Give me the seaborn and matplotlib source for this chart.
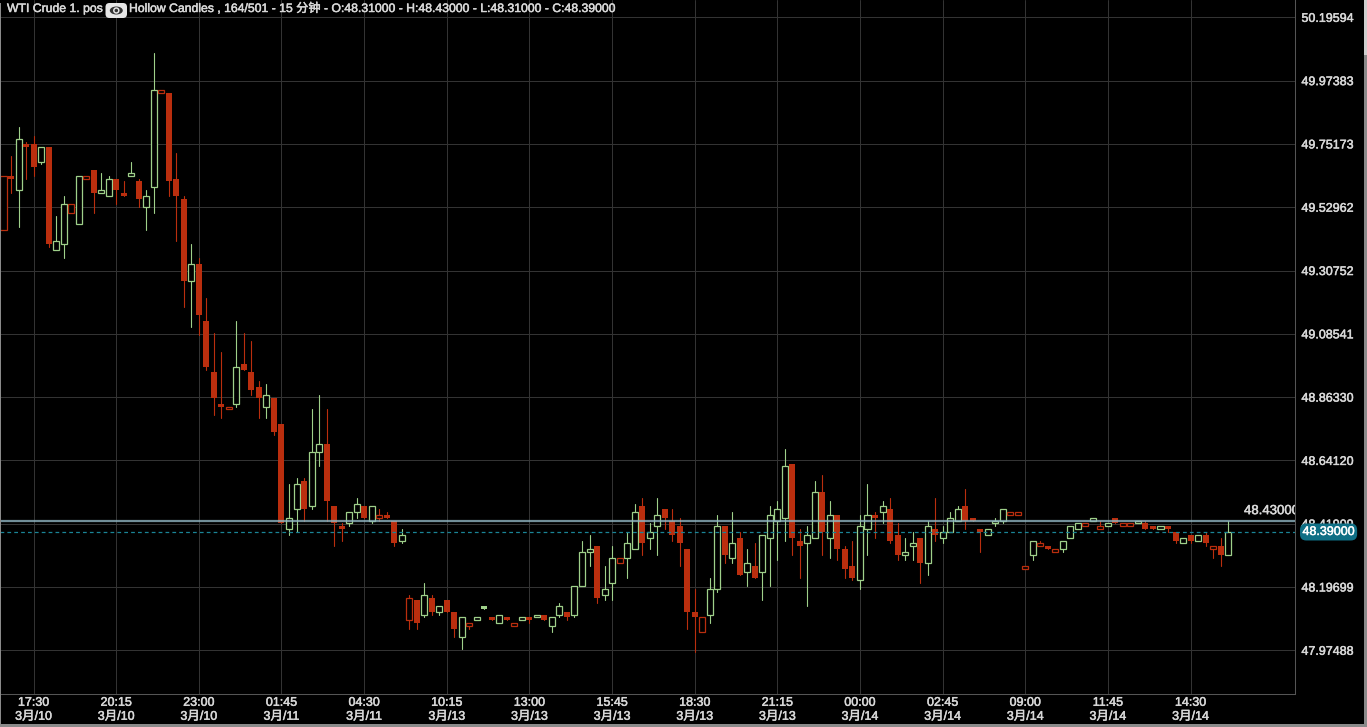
"""
WTI Crude hollow candle chart, 15 minute bars.
"""
import matplotlib
matplotlib.use('Agg')
import matplotlib.patheffects as pe
import matplotlib.pyplot as plt
import pandas as pd
import seaborn as sns
from matplotlib.patches import Ellipse, FancyBboxPatch, Rectangle
from matplotlib.transforms import IdentityTransform

opens = [
    49.45, 49.64, 49.59, 49.75, 49.75, 49.69, 49.74, 49.38, 49.40, 49.51,
    49.47, 49.63, 49.66, 49.58, 49.57, 49.63, 49.58, 49.64, 49.62, 49.53,
    49.60, 49.93, 49.93, 49.63, 49.56, 49.27, 49.33, 49.13, 48.95, 48.84,
    48.82, 48.84, 48.98, 48.95, 48.90, 48.83, 48.86, 48.77, 48.40, 48.47,
    48.57, 48.48, 48.67, 48.70, 48.48, 48.41, 48.42, 48.46, 48.48, 48.43,
    48.44, 48.45, 48.43, 48.36, 48.08, 48.15, 48.10, 48.16, 48.11, 48.15,
    48.11, 48.02, 48.06, 48.08, 48.13, 48.09, 48.07, 48.09, 48.06, 48.08,
    48.09, 48.09, 48.10, 48.06, 48.10, 48.11, 48.10, 48.20, 48.32, 48.34,
    48.17, 48.21, 48.28, 48.30, 48.33, 48.48, 48.37, 48.41, 48.47, 48.43,
    48.41, 48.33, 48.11, 48.04, 48.10, 48.19, 48.41, 48.30, 48.37, 48.25,
    48.27, 48.25, 48.37, 48.43, 48.44, 48.63, 48.36, 48.35, 48.37, 48.53,
    48.37, 48.45, 48.33, 48.27, 48.22, 48.40, 48.45, 48.46, 48.47, 48.38,
    48.31, 48.34, 48.37, 48.28, 48.40, 48.37, 48.39, 48.43, 48.48, 48.44,
    48.40, 48.38, 48.42, 48.43, 48.45, 48.45, 48.26, 48.31, 48.34, 48.34,
    48.32, 48.33, 48.37, 48.40, 48.41, 48.43, 48.40, 48.41, 48.44, 48.41,
    48.41, 48.42, 48.42, 48.41, 48.40, 48.41, 48.39, 48.35, 48.38, 48.36,
    48.38, 48.33, 48.34, 48.31,
]
highs = [
    49.64, 49.71, 49.81, 49.76, 49.78, 49.74, 49.74, 49.50, 49.57, 49.54,
    49.64, 49.64, 49.66, 49.65, 49.64, 49.63, 49.62, 49.69, 49.63, 49.59,
    50.07, 49.94, 49.93, 49.72, 49.57, 49.40, 49.35, 49.21, 49.09, 49.02,
    48.83, 49.13, 49.09, 49.06, 48.92, 48.91, 48.86, 48.77, 48.56, 48.58,
    48.58, 48.82, 48.87, 48.82, 48.48, 48.42, 48.46, 48.51, 48.48, 48.48,
    48.47, 48.46, 48.43, 48.40, 48.17, 48.15, 48.21, 48.17, 48.13, 48.15,
    48.11, 48.09, 48.07, 48.09, 48.13, 48.09, 48.10, 48.09, 48.07, 48.09,
    48.09, 48.10, 48.10, 48.09, 48.14, 48.11, 48.20, 48.36, 48.38, 48.34,
    48.27, 48.34, 48.30, 48.39, 48.49, 48.51, 48.42, 48.51, 48.47, 48.47,
    48.44, 48.33, 48.19, 48.09, 48.23, 48.45, 48.41, 48.46, 48.39, 48.33,
    48.35, 48.38, 48.48, 48.50, 48.68, 48.63, 48.40, 48.41, 48.57, 48.59,
    48.50, 48.45, 48.34, 48.36, 48.45, 48.56, 48.46, 48.50, 48.51, 48.42,
    48.37, 48.39, 48.37, 48.43, 48.51, 48.41, 48.46, 48.48, 48.54, 48.44,
    48.40, 48.40, 48.44, 48.47, 48.46, 48.46, 48.27, 48.36, 48.36, 48.34,
    48.33, 48.36, 48.41, 48.42, 48.42, 48.44, 48.43, 48.42, 48.44, 48.42,
    48.42, 48.43, 48.43, 48.41, 48.41, 48.41, 48.39, 48.37, 48.38, 48.38,
    48.39, 48.34, 48.37, 48.43,
]
lows = [
    49.45, 49.58, 49.46, 49.63, 49.64, 49.68, 49.39, 49.38, 49.35, 49.51,
    49.47, 49.63, 49.51, 49.58, 49.57, 49.54, 49.57, 49.64, 49.53, 49.45,
    49.51, 49.93, 49.57, 49.41, 49.18, 49.11, 49.08, 48.96, 48.80, 48.79,
    48.82, 48.83, 48.96, 48.87, 48.79, 48.79, 48.73, 48.42, 48.38, 48.39,
    48.43, 48.47, 48.62, 48.43, 48.34, 48.36, 48.41, 48.44, 48.44, 48.42,
    48.43, 48.44, 48.34, 48.35, 48.05, 48.05, 48.09, 48.10, 48.10, 48.11,
    48.02, 47.98, 48.05, 48.08, 48.12, 48.08, 48.07, 48.08, 48.06, 48.08,
    48.07, 48.09, 48.08, 48.04, 48.09, 48.08, 48.09, 48.20, 48.27, 48.14,
    48.15, 48.15, 48.28, 48.23, 48.33, 48.31, 48.33, 48.31, 48.40, 48.36,
    48.27, 48.05, 47.97, 48.04, 48.07, 48.18, 48.28, 48.28, 48.24, 48.20,
    48.23, 48.15, 48.20, 48.29, 48.36, 48.31, 48.23, 48.13, 48.37, 48.31,
    48.30, 48.29, 48.23, 48.22, 48.19, 48.31, 48.37, 48.42, 48.35, 48.29,
    48.29, 48.29, 48.21, 48.24, 48.36, 48.35, 48.39, 48.43, 48.40, 48.43,
    48.32, 48.38, 48.41, 48.42, 48.45, 48.45, 48.26, 48.29, 48.34, 48.33,
    48.32, 48.32, 48.37, 48.40, 48.41, 48.43, 48.40, 48.41, 48.42, 48.41,
    48.41, 48.42, 48.40, 48.40, 48.40, 48.39, 48.35, 48.35, 48.35, 48.36,
    48.34, 48.30, 48.27, 48.31,
]
closes = [
    49.64, 49.63, 49.77, 49.74, 49.67, 49.74, 49.40, 49.41, 49.54, 49.54,
    49.64, 49.64, 49.58, 49.59, 49.63, 49.59, 49.57, 49.65, 49.56, 49.57,
    49.94, 49.94, 49.62, 49.57, 49.27, 49.33, 49.15, 48.97, 48.86, 48.83,
    48.83, 48.97, 48.96, 48.89, 48.86, 48.87, 48.74, 48.42, 48.44, 48.56,
    48.47, 48.67, 48.70, 48.50, 48.42, 48.40, 48.46, 48.49, 48.44, 48.48,
    48.45, 48.44, 48.35, 48.38, 48.16, 48.07, 48.17, 48.11, 48.13, 48.11,
    48.05, 48.09, 48.07, 48.09, 48.12, 48.08, 48.10, 48.08, 48.07, 48.09,
    48.08, 48.10, 48.08, 48.09, 48.13, 48.09, 48.20, 48.32, 48.33, 48.16,
    48.19, 48.30, 48.30, 48.35, 48.46, 48.35, 48.39, 48.45, 48.44, 48.38,
    48.35, 48.11, 48.09, 48.09, 48.19, 48.41, 48.31, 48.35, 48.24, 48.28,
    48.23, 48.38, 48.45, 48.47, 48.62, 48.37, 48.34, 48.38, 48.53, 48.39,
    48.45, 48.33, 48.26, 48.23, 48.41, 48.45, 48.44, 48.48, 48.36, 48.31,
    48.32, 48.35, 48.28, 48.41, 48.38, 48.39, 48.44, 48.47, 48.43, 48.43,
    48.39, 48.40, 48.43, 48.47, 48.46, 48.46, 48.27, 48.36, 48.35, 48.33,
    48.33, 48.36, 48.41, 48.42, 48.42, 48.44, 48.41, 48.42, 48.42, 48.42,
    48.42, 48.43, 48.40, 48.40, 48.41, 48.40, 48.36, 48.37, 48.36, 48.38,
    48.35, 48.34, 48.31, 48.39,
]

price_ticks = [50.19594, 49.97383, 49.75173, 49.52962, 49.30752, 49.08541,
               48.86330, 48.64120, 48.41909, 48.19699, 47.97488]
time_labels = ['17:30', '20:15', '23:00', '01:45', '04:30', '10:15', '13:00', '15:45',
               '18:30', '21:15', '00:00', '02:45', '09:00', '11:45', '14:30']
date_labels = ['3月/10', '3月/10', '3月/10', '3月/11', '3月/11', '3月/13', '3月/13', '3月/13',
               '3月/13', '3月/13', '3月/14', '3月/14', '3月/14', '3月/14', '3月/14']
tick_bars = [4, 15, 26, 37, 48, 59, 70, 81, 92, 103, 114, 125, 136, 147, 158]
last_high = 48.43
last_close = 48.39

GREEN = '#9FD08A'
RED = '#BA2E0E'
GRID = '#333333'
TEXT = '#D8D8D8'
W, H = 1367, 727
AX_RIGHT, AX_BOTTOM = 1294.5, 694
HEAVY = [pe.withStroke(linewidth=0.35, foreground=TEXT)]

sns.set_theme(style='dark', rc={
    'figure.facecolor': 'black',
    'axes.facecolor': 'black',
    'axes.edgecolor': '#555555',
    'axes.axisbelow': True,
    'grid.color': GRID,
    'grid.linewidth': 0.75,
    'text.color': TEXT,
    'xtick.color': TEXT,
    'ytick.color': TEXT,
})
plt.rcParams['font.family'] = ['Liberation Sans', 'Noto Sans CJK SC', 'DejaVu Sans']
plt.rcParams['font.size'] = 9

df = pd.DataFrame({'open': opens, 'high': highs, 'low': lows, 'close': closes})
df['bar'] = df.index
# hollow when the bar closed above its open, red unless it closed above the bar before
df['hollow'] = df['close'] > df['open']
df['colour'] = ['red' if i == 0 or c <= df['close'][i - 1] else 'green'
                for i, c in enumerate(df['close'])]
palette = {'red': RED, 'green': GREEN}

fig = plt.figure(figsize=(W / 100, H / 100), dpi=100)
ax = fig.add_axes([0, 1 - AX_BOTTOM / H, AX_RIGHT / W, AX_BOTTOM / H])

# wicks: two rows per bar, one vertical line per unit
wicks = df.melt(id_vars=['bar', 'colour'], value_vars=['high', 'low'], value_name='price')
sns.lineplot(data=wicks, x='bar', y='price', hue='colour', units='bar', estimator=None,
             sort=False, palette=palette, legend=False, linewidth=0.8, ax=ax)

# bodies
bottoms = df[['open', 'close']].min(axis=1)
heights = (df['open'] - df['close']).abs()
faces = ['black' if h else palette[c] for h, c in zip(df['hollow'], df['colour'])]
edges = [palette[c] if h else 'none' for h, c in zip(df['hollow'], df['colour'])]
ax.bar(df['bar'], heights, bottom=bottoms, width=0.8, color=faces, edgecolor=edges,
       linewidth=0.9, zorder=3)

# axes scales: 1 px = 0.003509 in price, 7.513 px per bar
ax.set_xlim((0 - 3.5) / 7.513, (AX_RIGHT - 3.5) / 7.513)
ax.set_ylim(last_close - (AX_BOTTOM - 532) * 0.003509, last_close + 532 * 0.003509)

ax.axhline(last_high, color='#8FB4C0', alpha=0.8, linewidth=1.6, zorder=5)
ax.axhline(last_close, color='#1A8496', linewidth=0.9, linestyle=(0, (3, 2.5)), zorder=5)

ax.grid(True, axis='both')
ax.set_xticks(tick_bars)
ax.set_xticklabels([f'{t}\n{d}' for t, d in zip(time_labels, date_labels)], linespacing=1.0)
ax.set_yticks(price_ticks)
ax.set_yticklabels([f'{p:.5f}' for p in price_ticks])
ax.yaxis.tick_right()
ax.tick_params(axis='x', length=0, pad=2, labelsize=9)
ax.tick_params(axis='y', length=0, pad=5, labelsize=9)
for label in ax.get_xticklabels() + ax.get_yticklabels():
    label.set_path_effects(HEAVY)
    label.set_linespacing(1.22)
ax.set_xlabel('')
ax.set_ylabel('')
ax.spines['left'].set_visible(False)
ax.spines['top'].set_visible(False)
for side in ['right', 'bottom']:
    ax.spines[side].set_visible(True)
    ax.spines[side].set_color('#555555')
    ax.spines[side].set_linewidth(0.75)

# last values
ax.annotate(f'{last_high:.5f}', xy=(1, last_high), xycoords=('axes fraction', 'data'),
            xytext=(-50.5 * 0.72, 2.5), textcoords='offset points', va='bottom', ha='left',
            fontsize=9.5, color=TEXT, annotation_clip=False, clip_on=True, zorder=6,
            path_effects=HEAVY)
ax.annotate(f'{last_close:.5f}', xy=(1, last_close), xycoords=('axes fraction', 'data'),
            xytext=(8 * 0.72, 0), textcoords='offset points', va='center', ha='left',
            fontsize=9, color='white', annotation_clip=False, zorder=20,
            path_effects=[pe.withStroke(linewidth=0.35, foreground='white')],
            bbox=dict(boxstyle='round,pad=0.2,rounding_size=0.5', fc='#0F6F85', ec='none'))

# title bar text and the eye button
def ypx(y):
    return H - y

fig.text(7 / W, 1 - 9 / H, 'WTI Crude 1. pos', va='center', ha='left', fontsize=8.8,
         color=TEXT, path_effects=HEAVY)
fig.text(129 / W, 1 - 9 / H,
         'Hollow Candles , 164/501 - 15 分钟 - O:48.31000 - H:48.43000 - L:48.31000 - C:48.39000',
         va='center', ha='left', fontsize=8.8, color=TEXT, path_effects=HEAVY)
px = IdentityTransform()
fig.add_artist(FancyBboxPatch((105.5, ypx(18)), 21.5, 15, boxstyle='round,pad=0,rounding_size=4',
                              fc='#E6E6E6', ec='none', transform=px))
fig.add_artist(Ellipse((116.3, ypx(10.5)), 13, 8, fc='#333333', ec='none', transform=px))
fig.add_artist(Ellipse((116.3, ypx(10.5)), 6.5, 6.5, fc='#E6E6E6', ec='none', transform=px))
fig.add_artist(Ellipse((116.3, ypx(10.5)), 3.5, 3.5, fc='#333333', ec='none', transform=px))

# window frame
for x, y, w, h, col in [(0, 0, 1, H - 3, '#8A8A8A'), (0, 0, W, 3, '#8A8A8A'),
                        (W - 3, 0, 3, H, '#8A8A8A'), (W - 3, H - 55, 3, 55, '#D0D0D0')]:
    fig.add_artist(Rectangle((x, y), w, h, fc=col, ec='none', transform=px))

fig.savefig('out.png', dpi=100, facecolor='black')
